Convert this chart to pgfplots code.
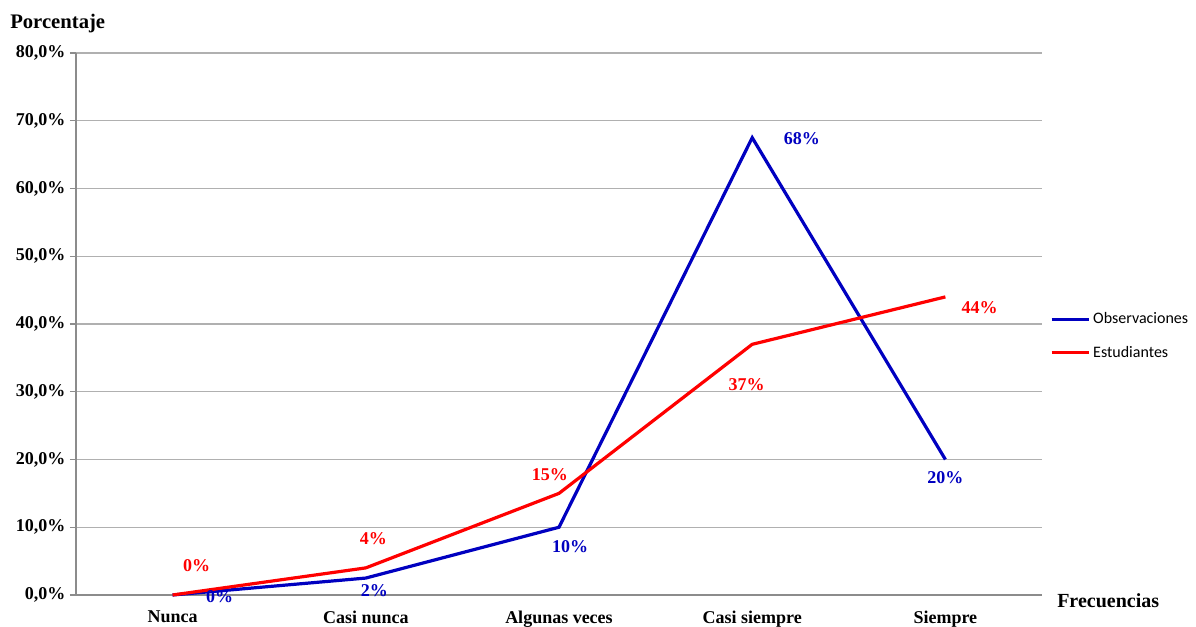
\documentclass[border=0pt]{standalone}
\usepackage{fontspec}
\setmainfont{Liberation Serif}
\newfontfamily\legendfont{Carlito}
\usepackage{pgfplots}
\pgfplotsset{compat=1.18}
\definecolor{serblue}{RGB}{0,0,192}
\definecolor{serred}{RGB}{255,0,0}
\definecolor{gridgray}{RGB}{176,176,176}
\definecolor{axgray}{RGB}{140,140,140}
\begin{document}
\begin{tikzpicture}
\begin{axis}[
  scale only axis,
  width=724.5pt, height=406.5pt,
  xmin=-0.5, xmax=4.5, ymin=0, ymax=80,
  axis x line*=bottom, axis y line*=left,
  axis line style={draw=axgray, line width=0.8pt, -},
  tick align=outside,
  major tick length=4.5pt,
  every tick/.style={draw=axgray, line width=0.8pt},
  ytick={0,10,...,80},
  yticklabels={{0,0\%},{10,0\%},{20,0\%},{30,0\%},{40,0\%},{50,0\%},{60,0\%},{70,0\%},{80,0\%}},
  ymajorgrids,
  grid style={draw=gridgray, line width=0.8pt},
  xtick={0,1,2,3,4},
  xticklabels={Nunca,Casi nunca,Algunas veces,Casi siempre,Siempre},
  x tick style={draw=none},
  extra x ticks={-0.5,0.5,1.5,2.5,3.5,4.5},
  extra x tick labels={},
  extra x tick style={grid=none, tick style={draw=axgray, line width=0.8pt}},
  ticklabel style={font=\fontsize{13.5}{15}\selectfont\bfseries},
  xticklabel style={font=\fontsize{13.5}{15}\selectfont\bfseries, yshift=-4pt},
  clip=false,
  legend style={draw=none, at={(1.008,0.478)}, anchor=west, font=\legendfont\fontsize{12}{14}\selectfont, row sep=11pt, inner sep=0pt, cells={anchor=west}},
  legend image code/.code={\draw[#1] (0pt,0pt) -- (28pt,0pt);},
]
\addplot[serblue, line width=2.4pt] coordinates {(0,0) (1,2.5) (2,10) (3,67.5) (4,20)};
\addlegendentry{Observaciones}
\addplot[serred, line width=2.4pt] coordinates {(0,0) (1,4) (2,15) (3,37) (4,44)};
\addlegendentry{Estudiantes}

\begin{scope}[every node/.style={font=\fontsize{13.5}{15}\selectfont\bfseries}]
\node[text=serblue] at (axis cs:0.244,-0.3) {0\%};
\node[text=serblue] at (axis cs:1.044,0.6) {2\%};
\node[text=serblue] at (axis cs:2.057,7.2) {10\%};
\node[text=serblue] at (axis cs:3.257,67.3) {68\%};
\node[text=serblue] at (axis cs:4.0,17.3) {20\%};
\node[text=serred] at (axis cs:0.125,4.4) {0\%};
\node[text=serred] at (axis cs:1.039,8.3) {4\%};
\node[text=serred] at (axis cs:1.953,17.7) {15\%};
\node[text=serred] at (axis cs:2.971,31.0) {37\%};
\node[text=serred] at (axis cs:4.177,42.4) {44\%};
\end{scope}

\node[anchor=base west, font=\fontsize{15.5}{17}\selectfont\bfseries, inner sep=0pt] at ([xshift=-49.5pt, yshift=18pt]rel axis cs:0,1) {Porcentaje};
\node[anchor=base west, font=\fontsize{15}{17}\selectfont\bfseries, inner sep=0pt] at ([xshift=11.25pt, yshift=-9.75pt]rel axis cs:1,0) {Frecuencias};
\end{axis}
\pgfresetboundingbox
\path (-57pt,-24pt) rectangle (840pt,446.25pt);
\end{tikzpicture}
\end{document}
